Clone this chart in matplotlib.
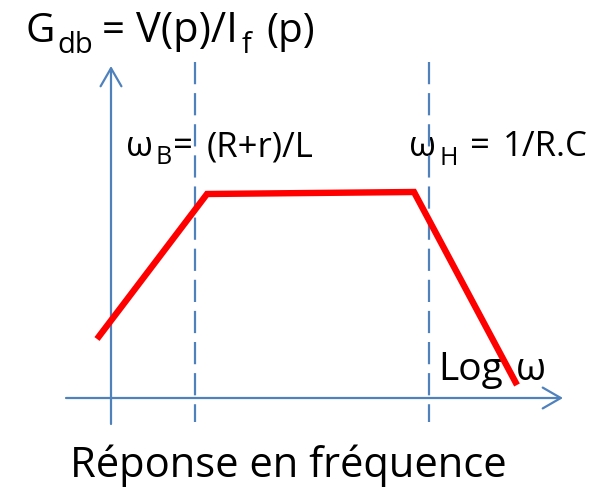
import matplotlib
matplotlib.use("Agg")
import matplotlib.pyplot as plt

# Asymptotic Bode magnitude: rising slope, flat mid-band, falling slope
gain_x = [97, 207, 414, 517]
gain_y = [339, 194, 192, 385]

# Corner frequencies (dashed verticals)
corner_x = [195, 429]

# Axes geometry (canvas units)
x_axis = dict(x0=66, x1=563, y=398)
y_axis = dict(x=111, y0=424, y1=66)

BLUE = "#4F81BD"
RED = "#FF0000"
FONT = ["Open Sans", "DejaVu Sans"]

fig = plt.figure(figsize=(6.10, 4.88), dpi=100)
ax = fig.add_axes([0, 0, 1, 1])
ax.set_xlim(0, 610)
ax.set_ylim(488, 0)
ax.axis("off")
renderer = fig.canvas.get_renderer()


def flow(x, y, pieces):
    """Write text runs one after another; each run is (text, size, drop, pad)."""
    for s, size, drop, pad in pieces:
        x += pad
        t = ax.text(x, y + drop, s, fontsize=size, family=FONT, ha="left",
                    va="baseline", zorder=3)
        bb = t.get_window_extent(renderer)
        x += bb.width
    return x


arrow = dict(arrowstyle="->,head_length=1.3,head_width=0.75", color=BLUE, lw=1.6,
             shrinkA=0, shrinkB=0)
ax.annotate("", xy=(x_axis["x1"], x_axis["y"]), xytext=(x_axis["x0"], x_axis["y"]),
            arrowprops=arrow, zorder=4)
ax.annotate("", xy=(y_axis["x"], y_axis["y1"]), xytext=(y_axis["x"], y_axis["y0"]),
            arrowprops=arrow, zorder=4)

for cx in corner_x:
    ax.plot([cx, cx], [62, 422], color=BLUE, lw=1.6, dashes=(10, 4), zorder=4)

ax.plot(gain_x, gain_y, color=RED, lw=4.6, solid_joinstyle="miter",
        solid_capstyle="butt", zorder=5)

# Title: G_db = V(p)/I_f (p)
flow(25, 42, [("G", 29, 0, 0), ("db", 21, 11, 3), ("=", 29, 0, 9),
              ("V(p)/I", 30, 0, 11), ("f", 21, 11, 4), ("(p)", 29, 0, 15)])

# Corner frequencies
flow(126, 156, [("ω", 25, 0, 0), ("B", 18, 8, 3), ("=", 25, 0, 1),
                ("(R+r)/L", 25, 0, 13)])
flow(409, 156, [("ω", 25, 0, 0), ("H", 18, 9, 4), ("=", 25, 0, 12),
                ("1/R.C", 25, 0, 12)])

# Horizontal axis label
flow(438, 380, [("Log", 28, 0, 0), ("ω", 28, 0, 13)])

flow(70, 477, [("Réponse en fréquence", 30, 0, 0)])

fig.savefig("out.png", dpi=100)
